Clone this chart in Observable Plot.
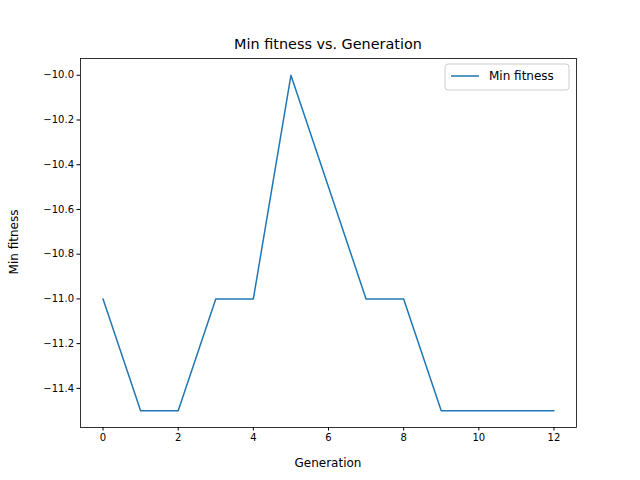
<!DOCTYPE html>
<html>
<head>
<meta charset="utf-8">
<script src="https://cdn.jsdelivr.net/npm/d3@7"></script>
<script src="https://cdn.jsdelivr.net/npm/@observablehq/plot@0.6"></script>
<style>body{margin:0;background:#fff}</style>
</head>
<body>
<div id="chart"></div>
<script>
const generations = [0, 1, 2, 3, 4, 5, 6, 7, 8, 9, 10, 11, 12];
const minFitness = [-11, -11.5, -11.5, -11, -11, -10, -10.5, -11, -11, -11.5, -11.5, -11.5, -11.5];
const xTicks = [0, 2, 4, 6, 8, 10, 12];
const yTicks = [-11.4, -11.2, -11.0, -10.8, -10.6, -10.4, -10.2, -10.0];

const data = generations.map((g, i) => ({gen: g, fit: minFitness[i]}));

const chart = Plot.plot({
  width: 640,
  height: 480,
  marginLeft: 80,
  marginRight: 64,
  marginTop: 58,
  marginBottom: 53,
  style: {fontFamily: 'DejaVu Sans', fontSize: '10px', color: '#000', background: '#fff'},
  x: {domain: [-0.6, 12.6], ticks: xTicks, tickFormat: d3.format('d'), label: null},
  y: {domain: [-11.575, -9.925], ticks: yTicks, tickFormat: d3.format('.1f'), label: null},
  marks: [
    Plot.frame({stroke: '#000', strokeWidth: 0.8}),
    Plot.axisX({ticks: xTicks, tickSize: 3.5, tickPadding: 3, fontSize: 10, label: null}),
    Plot.axisY({ticks: yTicks, tickSize: 3.5, tickPadding: 3, fontSize: 10, label: null}),
    Plot.line(data, {x: 'gen', y: 'fit', stroke: '#1f77b4', strokeWidth: 1.5})
  ]
});

const svg = d3.select(chart);
svg.append('text').attr('x', 328).attr('y', 49).attr('text-anchor', 'middle')
  .attr('font-size', 14.4).attr('font-family', 'DejaVu Sans').text('Min fitness vs. Generation');
svg.append('text').attr('x', 328).attr('y', 467).attr('text-anchor', 'middle')
  .attr('font-size', 12).attr('font-family', 'DejaVu Sans').text('Generation');
svg.append('text').attr('transform', 'translate(18,242) rotate(-90)').attr('text-anchor', 'middle')
  .attr('font-size', 12).attr('font-family', 'DejaVu Sans').text('Min fitness');
const lg = svg.append('g');
lg.append('rect').attr('x', 445).attr('y', 64).attr('width', 124).attr('height', 26).attr('rx', 3)
  .attr('fill', '#fff').attr('stroke', '#ccc');
lg.append('line').attr('x1', 451).attr('x2', 479).attr('y1', 76).attr('y2', 76)
  .attr('stroke', '#1f77b4').attr('stroke-width', 1.5);
lg.append('text').attr('x', 489).attr('y', 80).attr('font-size', 12).attr('text-anchor', 'start')
  .attr('font-family', 'DejaVu Sans').text('Min fitness');

d3.select('#chart').append(() => chart);
</script>
</body>
</html>
